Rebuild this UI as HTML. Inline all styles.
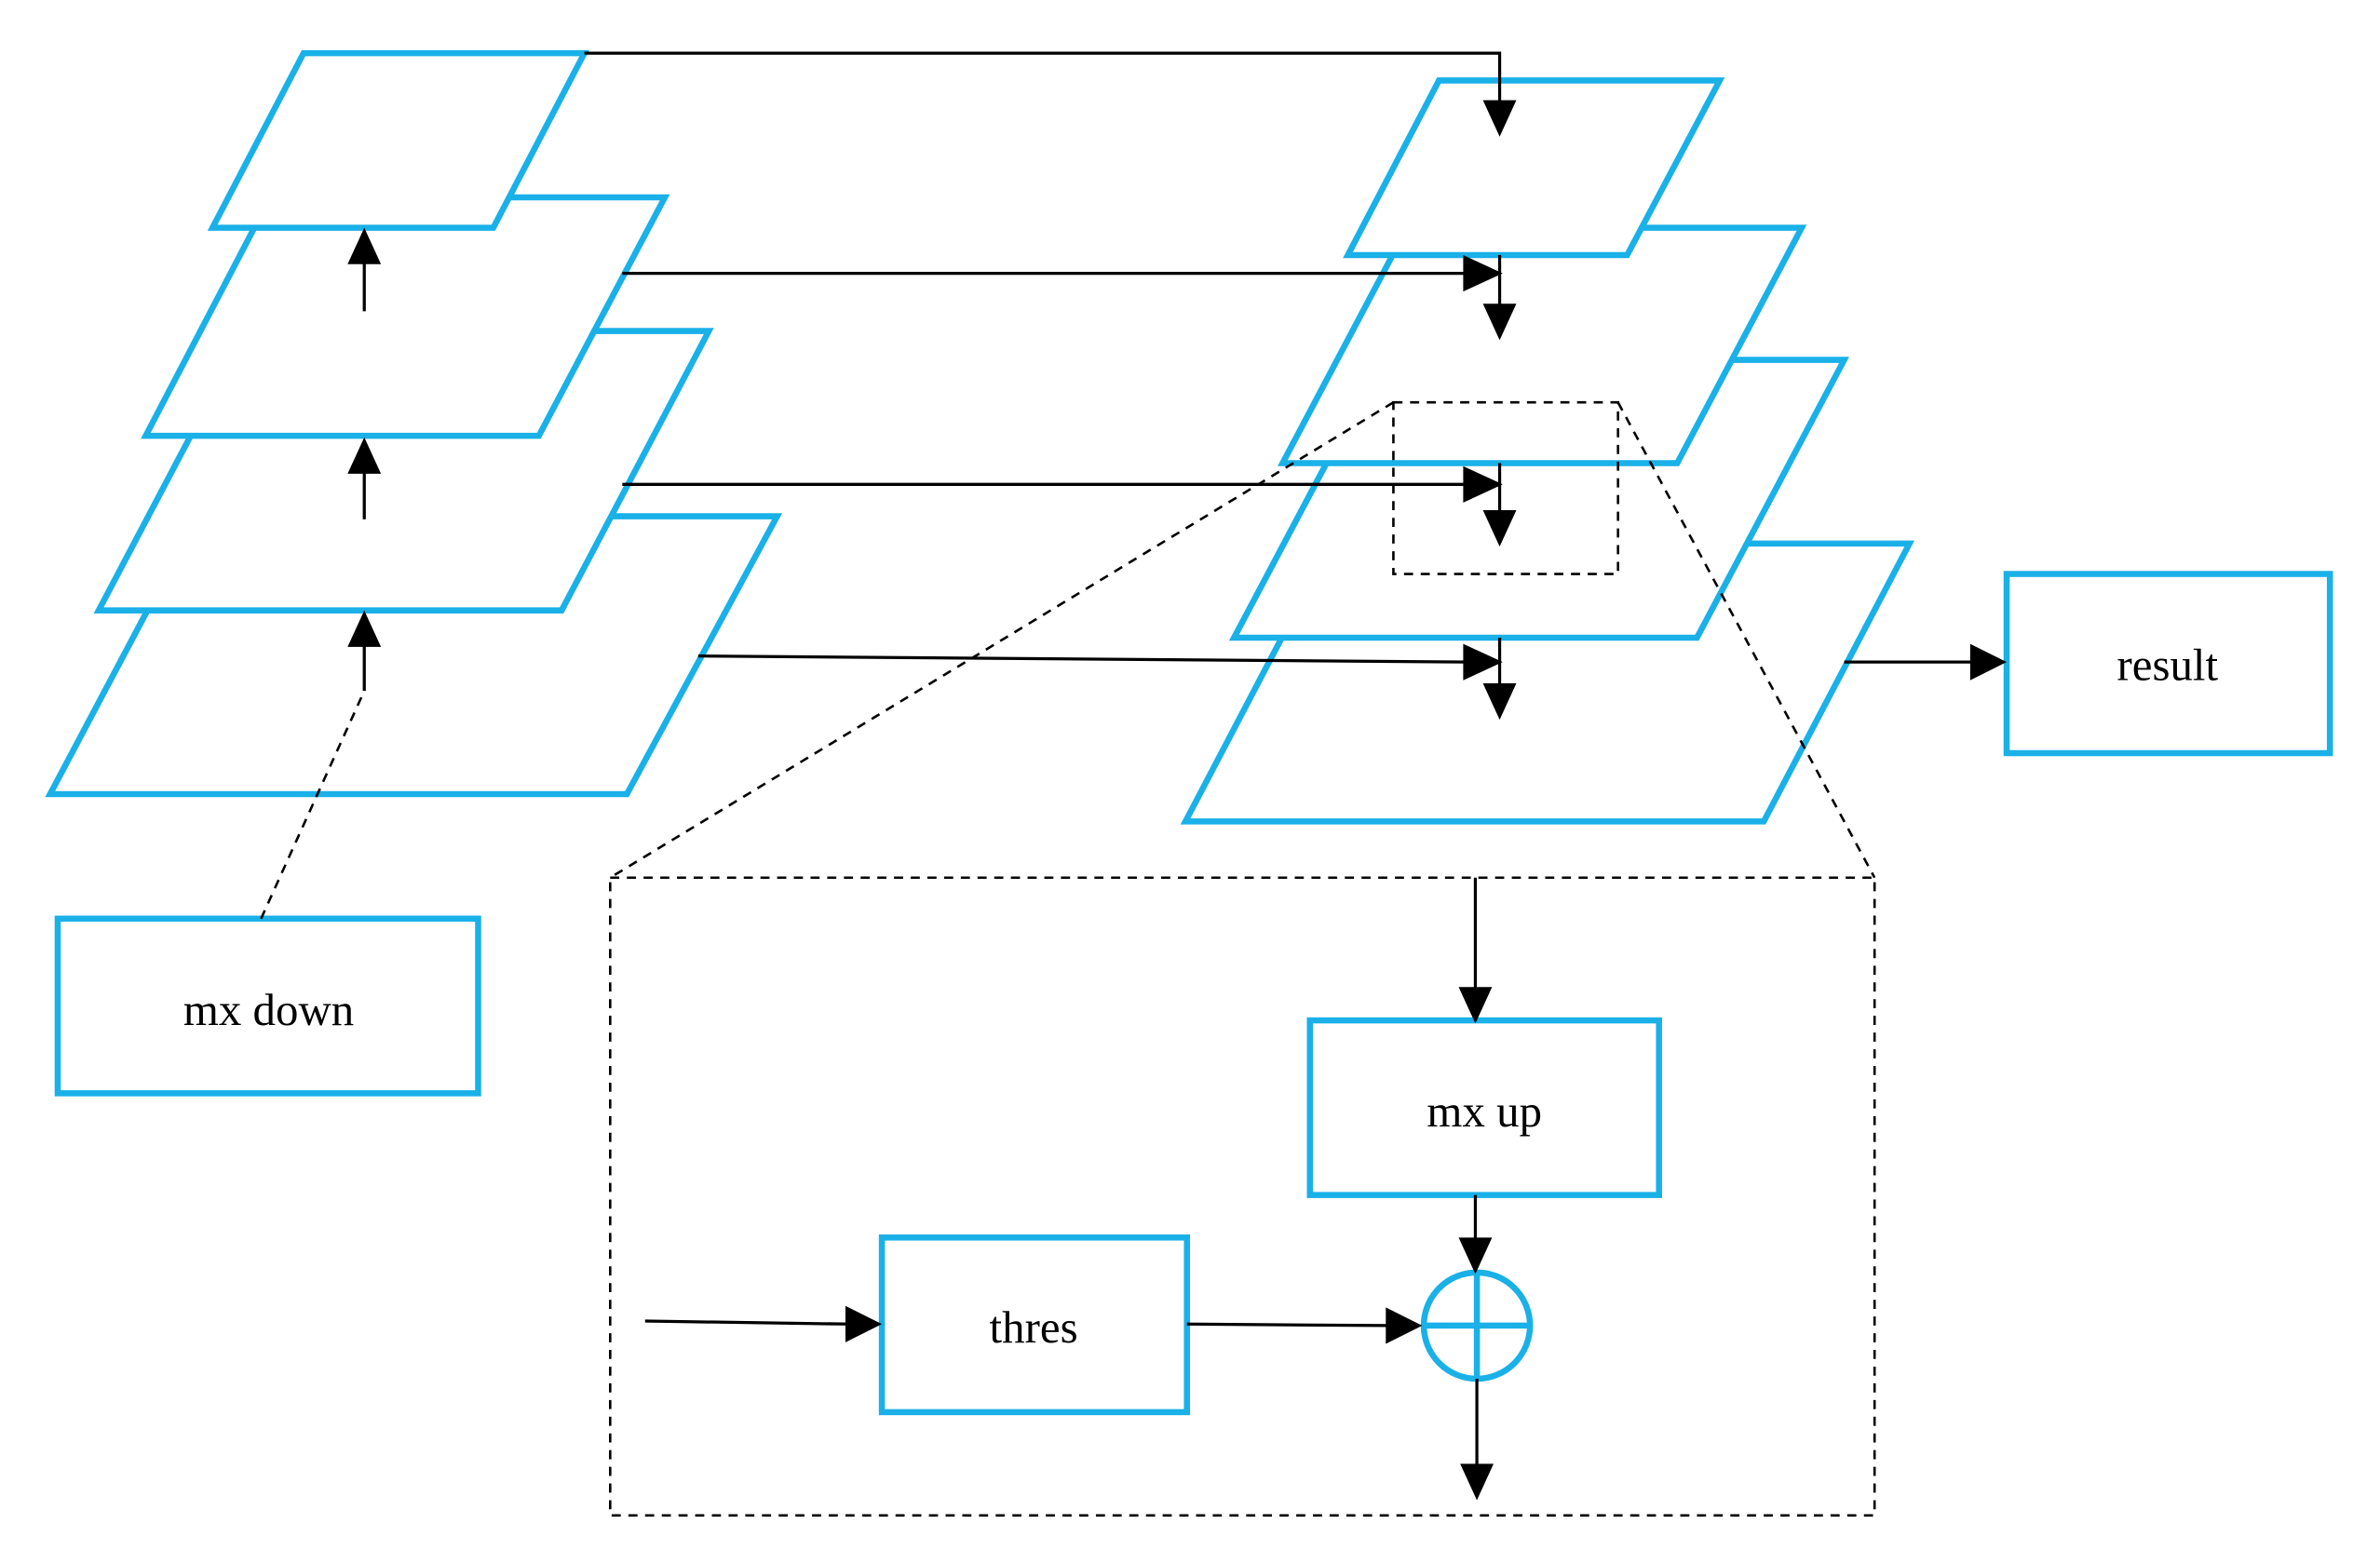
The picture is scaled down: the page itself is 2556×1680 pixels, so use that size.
<!DOCTYPE html>
<html><head><meta charset="utf-8"><style>
html,body{margin:0;padding:0;background:#fff;}
svg{display:block;}
text{font-family:"Liberation Serif",serif;font-size:30px;fill:#000;}
</style></head><body>
<svg width="2556" height="1680" viewBox="0 0 1568 1030" preserveAspectRatio="none" xmlns="http://www.w3.org/2000/svg">
<g fill="#fff" stroke="#1ab0e8" stroke-width="4">
<polygon points="33,523 413,523 512,340 130,340"/>
<polygon points="65,402 370,402 467,218 162,218"/>
<polygon points="96,287 355,287 438,130 178,130"/>
<polygon points="140,150 325,150 385,35 200,35"/>
<polygon points="781,541 1162,541 1258,358 877,358"/>
<polygon points="813,420 1118,420 1215,237 910,237"/>
<polygon points="845,305 1105,305 1187,150 927,150"/>
<polygon points="888,168 1072,168 1133,53 948,53"/>
<rect x="38" y="605" width="277" height="115"/>
<rect x="1322" y="378" width="213" height="118"/>
<rect x="863" y="672" width="230" height="115"/>
<rect x="581" y="815" width="201" height="115"/>
<circle cx="973" cy="873" r="35"/>
<line x1="938" y1="873" x2="1008" y2="873"/>
<line x1="973" y1="838" x2="973" y2="908"/>
</g>
<g stroke="#000" stroke-width="1.6" fill="none" stroke-dasharray="6,5">
<rect x="918" y="265" width="148" height="113"/>
<line x1="918" y1="265" x2="402" y2="578"/>
<line x1="1066" y1="265" x2="1235" y2="578"/>
<rect x="402" y="578" width="833" height="420"/>
<line x1="172" y1="605" x2="240" y2="455"/>
</g>
<g stroke="#000" stroke-width="2" fill="none">
<polyline points="385,35 988,35 988,68"/>
<line x1="410" y1="180" x2="966" y2="180"/>
<line x1="988" y1="168" x2="988" y2="202"/>
<line x1="410" y1="319" x2="966" y2="319"/>
<line x1="988" y1="305" x2="988" y2="338"/>
<line x1="460" y1="432" x2="966" y2="436"/>
<line x1="988" y1="420" x2="988" y2="452"/>
<line x1="240" y1="205" x2="240" y2="170"/>
<line x1="240" y1="342" x2="240" y2="308"/>
<line x1="240" y1="455" x2="240" y2="422"/>
<line x1="1215" y1="436" x2="1300" y2="436"/>
<line x1="972" y1="578" x2="972" y2="652"/>
<line x1="972" y1="787" x2="972" y2="818"/>
<line x1="425" y1="870" x2="560" y2="872"/>
<line x1="782" y1="872" x2="916" y2="873"/>
<line x1="973" y1="908" x2="973" y2="966"/>
</g>
<g fill="#000">
<polygon points="977,66 999,66 988,90"/>
<polygon points="964,168 964,192 990,180"/>
<polygon points="977,200 999,200 988,224"/>
<polygon points="964,307 964,331 990,319"/>
<polygon points="977,336 999,336 988,360"/>
<polygon points="964,424 964,448 990,436"/>
<polygon points="977,450 999,450 988,474"/>
<polygon points="229,174 251,174 240,150"/>
<polygon points="229,312 251,312 240,288"/>
<polygon points="229,426 251,426 240,402"/>
<polygon points="1298,424 1298,448 1322,436"/>
<polygon points="961,650 983,650 972,674"/>
<polygon points="961,815 983,815 972,839"/>
<polygon points="557,860 557,884 581,872"/>
<polygon points="913,861 913,885 937,873"/>
<polygon points="962,964 984,964 973,988"/>
</g>
<text x="177" y="675" text-anchor="middle">mx down</text>
<text x="1428" y="448" text-anchor="middle">result</text>
<text x="978" y="742" text-anchor="middle">mx up</text>
<text x="681" y="884" text-anchor="middle">thres</text>
</svg>
</body></html>
